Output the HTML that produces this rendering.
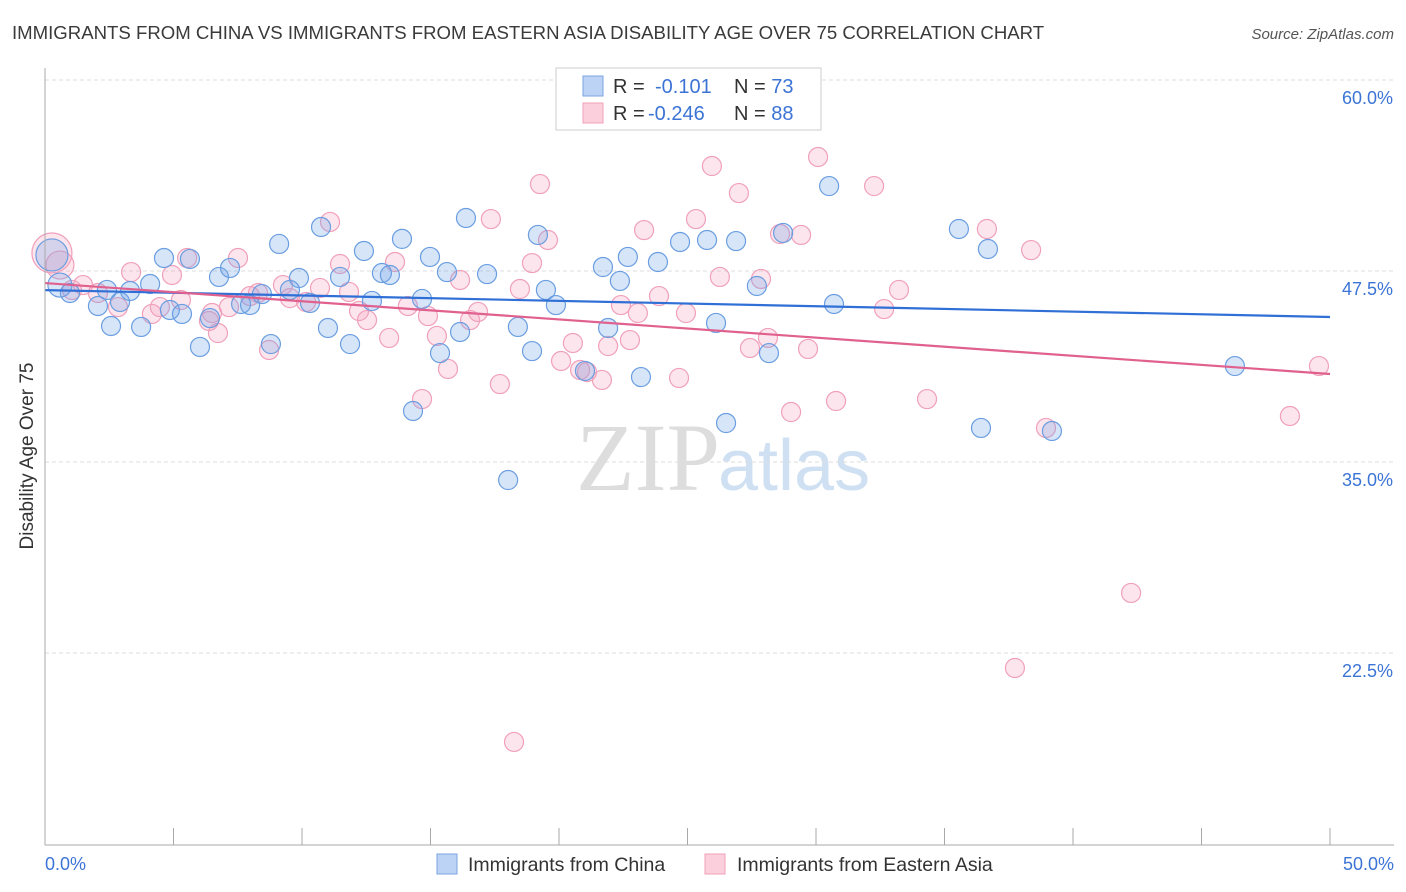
<!DOCTYPE html>
<html><head><meta charset="utf-8"><style>
body{margin:0;background:#fff;font-family:"Liberation Sans",sans-serif}
svg{display:block}
</style></head><body>
<svg id="c" width="1406" height="892">
<text x="12" y="39" font-size="18.6" fill="#3a3a3a">IMMIGRANTS FROM CHINA VS IMMIGRANTS FROM EASTERN ASIA DISABILITY AGE OVER 75 CORRELATION CHART</text>
<text x="1394" y="39" font-size="15" fill="#555" text-anchor="end" font-style="italic">Source: ZipAtlas.com</text>
<text x="720" y="490" font-size="96" fill="#ddd" text-anchor="end" font-family="Liberation Serif">ZIP</text>
<text x="718" y="490" font-size="72" fill="#cfe0f3">atlas</text>
<g id="grid"></g><g id="pts"></g><g id="lines"></g>
<line x1="45" y1="68" x2="45" y2="845" stroke="#aaa"/>
<line x1="45" y1="845" x2="1394" y2="845" stroke="#aaa"/>
<text transform="translate(33,456) rotate(-90)" font-size="19" fill="#333" text-anchor="middle">Disability Age Over 75</text>
<text x="45" y="870" font-size="18" fill="#3c74d6">0.0%</text>
<text x="1394" y="870" font-size="18" fill="#3c74d6" text-anchor="end">50.0%</text>
<g>
<rect x="556" y="68" width="265" height="62" fill="#fff" stroke="#ccc"/>
<rect x="583" y="76" width="20" height="20" fill="#bcd3f5" stroke="#7aa4e0"/>
<rect x="583" y="103" width="20" height="20" fill="#fbd0dc" stroke="#f0a0ba"/>
<text x="613" y="93" font-size="20" fill="#333">R = <tspan x="655" fill="#3c74d6">-0.101</tspan><tspan x="734">N = </tspan><tspan fill="#3c74d6">73</tspan></text>
<text x="613" y="120" font-size="20" fill="#333">R = <tspan x="648" fill="#3c74d6">-0.246</tspan><tspan x="734">N = </tspan><tspan fill="#3c74d6">88</tspan></text>
</g>
<g>
<rect x="437" y="854" width="20" height="20" fill="#bcd3f5" stroke="#7aa4e0"/>
<text x="468" y="871" font-size="19.5" fill="#333">Immigrants from China</text>
<rect x="705" y="854" width="20" height="20" fill="#fbd0dc" stroke="#f0a0ba"/>
<text x="737" y="871" font-size="19.5" fill="#333">Immigrants from Eastern Asia</text>
</g>
</svg>
<script>
const yTicks=[60,47.5,35,22.5];
const yTickLabels=["60.0%","47.5%","35.0%","22.5%"];
const xTicks=[0,5,10,15,20,25,30,35,40,45,50];
const chinaX=[0.27,0.58,0.97,2.06,2.41,2.57,2.92,3.31,3.74,4.09,4.63,4.86,5.33,5.64,6.03,6.42,6.77,7.2,7.63,7.98,8.44,8.79,9.11,9.53,9.88,10.31,10.74,11.01,11.48,11.87,12.41,12.72,13.11,13.42,13.89,14.32,14.67,14.98,15.37,15.64,16.15,16.38,17.2,18.02,18.4,18.95,19.18,19.49,19.88,21.01,21.71,21.91,22.37,22.68,23.19,23.85,24.71,25.76,26.11,26.5,26.89,27.7,28.17,28.72,30.51,30.7,35.56,36.42,36.69,39.18,46.3];
const chinaY=[48.55,46.58,46.06,45.21,46.26,43.9,45.47,46.19,43.84,46.65,48.35,44.95,44.69,48.29,42.53,44.42,47.11,47.7,45.34,45.27,45.99,42.72,49.27,46.26,47.04,45.41,50.38,43.77,47.11,42.72,48.81,45.54,47.37,47.24,49.6,38.34,45.67,48.42,42.13,47.43,43.51,50.97,47.3,33.82,43.84,42.26,49.86,46.26,45.27,40.96,47.76,43.77,46.85,48.42,40.56,48.09,49.4,49.53,44.1,37.55,49.46,46.52,42.13,49.99,53.06,45.34,50.25,37.23,48.94,37.03,41.28];
const asiaX=[0.27,0.58,1.05,1.48,2.06,2.84,3.35,4.16,4.47,4.94,5.29,5.53,6.38,6.5,6.73,7.16,7.51,7.98,8.29,8.72,9.26,9.53,10.16,10.7,11.09,11.48,11.83,12.22,12.53,13.39,13.62,14.12,14.67,14.9,15.25,15.68,16.15,16.54,16.85,17.35,17.7,18.25,18.48,18.95,19.26,19.57,20.08,20.54,20.82,21.09,21.67,21.91,22.41,22.76,23.07,23.31,23.89,24.67,24.94,25.33,25.95,26.26,27.0,27.43,27.86,28.13,28.6,29.03,29.42,29.69,30.08,30.78,32.26,32.65,33.23,34.32,36.65,37.74,38.37,38.95,42.26,48.44,49.57];
const asiaY=[48.68,47.89,46.26,46.58,46.06,45.14,47.43,44.69,45.14,47.24,45.6,48.35,44.23,44.75,43.44,45.14,48.35,45.86,46.06,42.33,46.58,45.73,45.47,46.39,50.71,47.96,46.13,44.88,44.29,43.12,48.09,45.21,39.12,44.55,43.25,41.09,46.91,44.29,44.82,50.9,40.1,16.68,46.32,48.02,53.19,49.53,41.61,42.79,41.02,40.89,40.37,42.59,45.27,42.98,44.75,50.18,45.86,40.5,44.75,50.9,54.37,47.11,52.6,42.46,46.98,43.12,49.92,38.27,49.86,42.4,54.96,38.99,53.06,45.01,46.26,39.12,50.25,21.52,48.87,37.23,26.43,38.01,41.28];
const chinaTrend=[46.25,44.49];
const asiaTrend=[46.71,40.76];
const NS="http://www.w3.org/2000/svg";
const sx=v=>45+v*25.7, sy=v=>80+(60-v)*15.28;
function mk(t,a,p){const e=document.createElementNS(NS,t);for(const k in a)e.setAttribute(k,a[k]);p.appendChild(e);return e;}
const grid=document.getElementById('grid');
yTicks.forEach((v,i)=>{
 const l=mk('line',{x1:45,x2:1394,y1:sy(v),y2:sy(v),stroke:'#ddd','stroke-dasharray':'4,3'},grid);
 
 
 const t=mk('text',{x:1393,y:sy(v)+24,'font-size':18,fill:'#3c74d6','text-anchor':'end'},grid);
 t.textContent=yTickLabels[i];
 
 
});
xTicks.forEach(v=>{
 const l=mk('line',{x1:sx(v),x2:sx(v),y1:828,y2:845,stroke:'#aaa'},grid);
 
 
});
const pts=document.getElementById('pts');
function series(X,Y,fill,stroke,name,big){
 X.forEach((x,i)=>{
  const r=i<big.length?big[i]:9.5;
  const c=mk('circle',{cx:sx(x),cy:sy(Y[i]),r:r,fill:fill,stroke:stroke,'stroke-width':1.2},pts);
  
  
 });
}
series(asiaX,asiaY,'rgba(245,160,190,0.28)','#f0a0ba','point-eastern-asia',[20,14]);
series(chinaX,chinaY,'rgba(110,160,235,0.28)','#6a9ee0','point-china',[16,12]);
const lines=document.getElementById('lines');
const b=mk('line',{x1:sx(0),x2:sx(50),y1:sy(chinaTrend[0]),y2:sy(chinaTrend[1]),stroke:'#2f6fd6','stroke-width':2.2},lines);


const p=mk('line',{x1:sx(0),x2:sx(50),y1:sy(asiaTrend[0]),y2:sy(asiaTrend[1]),stroke:'#e0608e','stroke-width':2.2},lines);


</script>
</body></html>
